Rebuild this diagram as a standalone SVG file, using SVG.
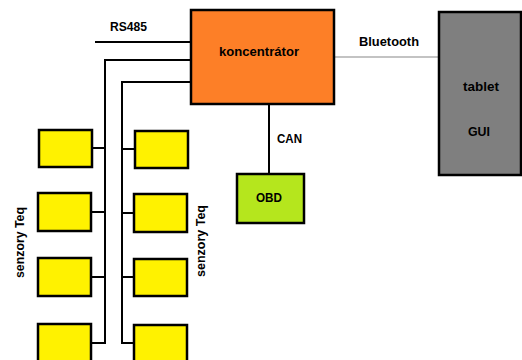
<svg xmlns="http://www.w3.org/2000/svg" width="522" height="360" viewBox="0 0 522 360">
<style>
.box{stroke:#000;stroke-width:2.5}
.sensor{fill:#FFF200}
.ln{stroke:#000;stroke-width:2;fill:none}
.bt{stroke:#C3C3C3;stroke-width:2;fill:none}
text{font-family:"Liberation Sans",Arial,sans-serif;font-weight:bold;font-size:12px;fill:#000}
</style>
<rect width="522" height="360" fill="#fff"/>
<g id="connectors">
<path class="ln" d="M95 42H191"/>
<path class="ln" d="M191 60H105V343H91"/>
<path class="ln" d="M191 82H122V343H134"/>
<path class="ln" d="M92 148H105M91 212H105M91 277H105"/>
<path class="ln" d="M122 149H135M122 213H134M122 277H134"/>
<path class="ln" d="M269 104V174"/>
<path class="bt" d="M334 57H439"/>
<text x="110" y="31" textLength="37" lengthAdjust="spacingAndGlyphs">RS485</text>
<text x="277" y="143" textLength="25" lengthAdjust="spacingAndGlyphs">CAN</text>
<text x="359" y="46" textLength="60" lengthAdjust="spacingAndGlyphs">Bluetooth</text>
</g>
<g id="koncentrator">
<rect class="box" x="191" y="10" width="143" height="94" fill="#FD7F27"/>
<text x="219" y="56" textLength="80" lengthAdjust="spacingAndGlyphs" font-weight="normal" style="font-weight:600">koncentrátor</text>
</g>
<g id="obd">
<rect class="box" x="237" y="174" width="67" height="49" fill="#B5E61D"/>
<text x="256" y="202" textLength="26" lengthAdjust="spacingAndGlyphs">OBD</text>
</g>
<g id="tablet">
<rect class="box" x="439" y="12" width="82" height="163" fill="#7F7F7F"/>
<text x="463" y="91" textLength="36" lengthAdjust="spacingAndGlyphs">tablet</text>
<text x="468" y="136" textLength="22" lengthAdjust="spacingAndGlyphs">GUI</text>
</g>
<g id="sensor-l1"><rect class="box sensor" x="39" y="130" width="53" height="37"/></g>
<g id="sensor-l2"><rect class="box sensor" x="38" y="193" width="53" height="38"/></g>
<g id="sensor-l3"><rect class="box sensor" x="38" y="258" width="53" height="38"/></g>
<g id="sensor-l4"><rect class="box sensor" x="38" y="324" width="53" height="40"/></g>
<g id="sensor-r1"><rect class="box sensor" x="135" y="131" width="53" height="37"/></g>
<g id="sensor-r2"><rect class="box sensor" x="134" y="194" width="53" height="38"/></g>
<g id="sensor-r3"><rect class="box sensor" x="134" y="259" width="53" height="37"/></g>
<g id="sensor-r4"><rect class="box sensor" x="134" y="325" width="53" height="40"/></g>
<g id="label-left">
<text transform="translate(24 278) rotate(-90)" textLength="71" lengthAdjust="spacingAndGlyphs">senzory Teq</text>
</g>
<g id="label-right">
<text transform="translate(205 277) rotate(-90)" textLength="72" lengthAdjust="spacingAndGlyphs">senzory Teq</text>
</g>
</svg>
